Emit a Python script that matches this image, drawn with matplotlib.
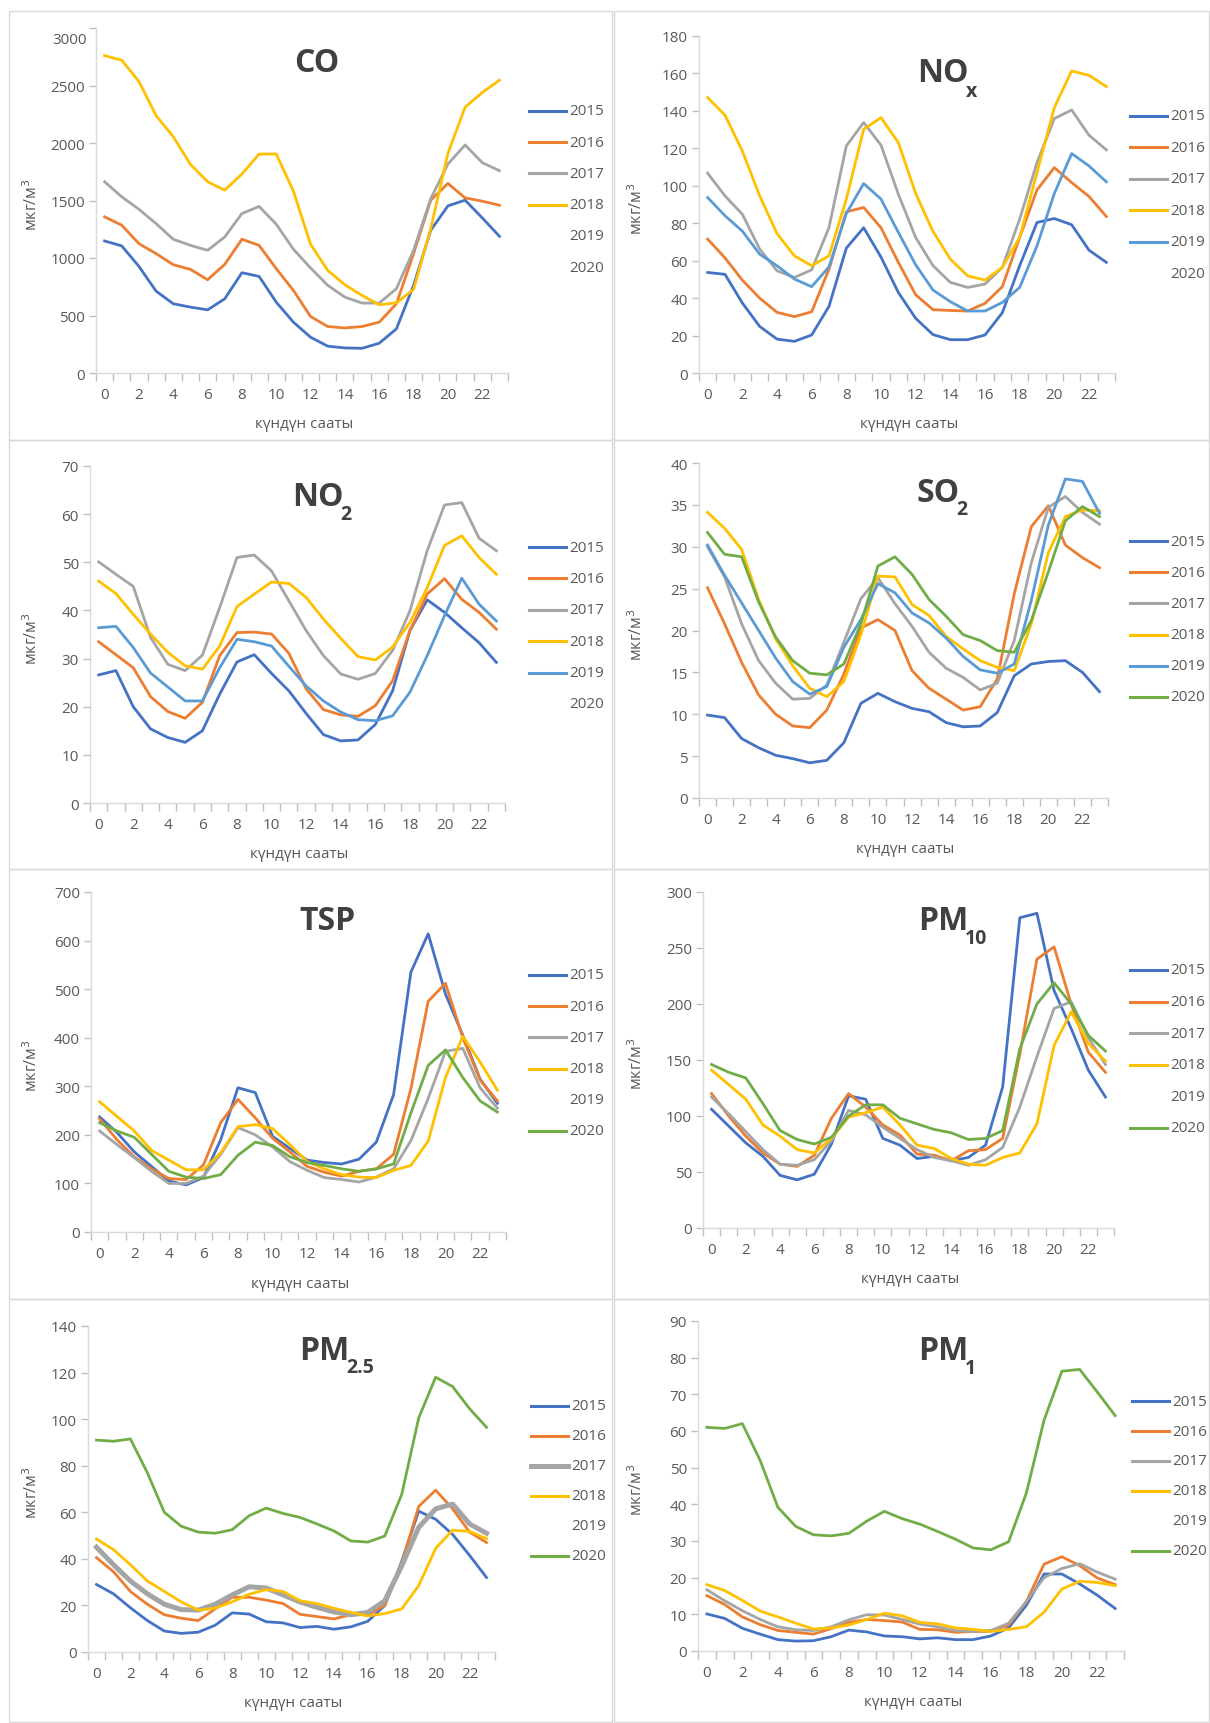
import matplotlib
matplotlib.use("Agg")
import matplotlib.pyplot as plt
from matplotlib.lines import Line2D
from matplotlib.patches import Rectangle

plt.rcParams['font.family'] = ['Open Sans', 'DejaVu Sans']

hours = list(range(24))
years = ['2015', '2016', '2017', '2018', '2019', '2020']
colors = {'2015': '#4472C4', '2016': '#ED7D31', '2017': '#A5A5A5',
          '2018': '#FFC000', '2019': '#5B9BD5', '2020': '#70AD47'}

# ---------------- data ----------------
co_2015 = [1148, 1105, 927, 712, 602, 573, 549, 645, 872, 840, 616, 442, 311, 233, 218, 215, 259, 384, 762, 1241, 1453, 1503, 1349, 1189]
co_2016 = [1358, 1285, 1125, 1038, 942, 901, 811, 945, 1163, 1110, 907, 718, 491, 404, 392, 404, 442, 602, 1038, 1503, 1648, 1523, 1494, 1459]
co_2017 = [1663, 1532, 1424, 1299, 1163, 1110, 1067, 1183, 1387, 1448, 1294, 1076, 913, 762, 660, 608, 608, 733, 1067, 1517, 1817, 1983, 1829, 1759]
co_2018 = [2760, 2720, 2535, 2238, 2055, 1814, 1663, 1590, 1730, 1904, 1904, 1581, 1119, 892, 767, 674, 593, 610, 727, 1256, 1910, 2311, 2439, 2546]

nox_2015 = [53.7, 52.7, 37.4, 24.9, 18.1, 16.9, 20.3, 35.6, 66.7, 77.6, 61.9, 43.0, 29.2, 20.5, 17.8, 17.8, 20.3, 32.2, 57.3, 80.4, 82.5, 79.2, 65.6, 59.1]
nox_2016 = [71.5, 61.5, 49.6, 40.0, 32.4, 30.1, 32.7, 55.5, 86.1, 88.4, 77.6, 59.1, 41.8, 33.8, 33.4, 33.1, 37.2, 46.1, 72.4, 97.8, 109.7, 101.7, 94.3, 83.6]
nox_2017 = [106.7, 94.6, 84.8, 66.2, 54.6, 51.0, 55.1, 77.7, 121.3, 133.8, 121.7, 95.5, 72.4, 57.3, 48.4, 45.7, 47.5, 56.4, 82.2, 112.4, 135.9, 140.5, 127.0, 119.2]
nox_2018 = [147.1, 137.7, 118.6, 94.6, 74.5, 62.6, 57.3, 62.6, 92.9, 130.2, 136.4, 123.1, 95.9, 75.6, 60.8, 51.9, 49.6, 56.4, 72.4, 107.1, 141.8, 161.3, 159.0, 153.0]
nox_2019 = [93.7, 84.0, 75.8, 63.5, 57.3, 50.2, 46.1, 56.7, 85.2, 101.2, 92.9, 75.1, 57.8, 44.3, 38.1, 33.1, 33.1, 37.7, 45.7, 67.9, 95.9, 117.2, 110.6, 102.1]

no2_2015 = [26.6, 27.5, 20.0, 15.4, 13.6, 12.6, 15.0, 22.6, 29.3, 30.8, 26.9, 23.3, 18.6, 14.2, 12.9, 13.1, 16.3, 23.3, 35.8, 42.2, 39.6, 36.4, 33.3, 29.2]
no2_2016 = [33.5, 30.8, 28.1, 22.1, 19.0, 17.6, 20.9, 30.6, 35.4, 35.5, 35.1, 31.1, 23.7, 19.4, 18.3, 18.0, 20.2, 25.4, 35.8, 43.4, 46.6, 42.3, 39.6, 36.1]
no2_2017 = [50.1, 47.5, 45.0, 34.4, 28.8, 27.5, 30.7, 40.6, 51.0, 51.5, 48.2, 42.0, 35.8, 30.6, 26.8, 25.7, 26.9, 31.7, 39.9, 52.4, 61.9, 62.4, 55.0, 52.4]
no2_2018 = [46.1, 43.5, 39.2, 35.1, 31.3, 28.5, 27.8, 32.6, 40.8, 43.4, 45.9, 45.6, 42.7, 38.2, 34.2, 30.4, 29.7, 32.4, 37.5, 44.7, 53.5, 55.5, 51.0, 47.5]
no2_2019 = [36.4, 36.7, 32.3, 27.0, 24.1, 21.2, 21.2, 28.1, 34.0, 33.5, 32.6, 28.4, 24.3, 21.2, 18.9, 17.3, 17.1, 18.1, 23.0, 30.6, 38.9, 46.7, 41.3, 37.8]

so2_2015 = [9.9, 9.6, 7.1, 6.0, 5.1, 4.7, 4.2, 4.5, 6.6, 11.3, 12.5, 11.5, 10.7, 10.3, 9.0, 8.5, 8.6, 10.2, 14.6, 16.0, 16.3, 16.4, 15.0, 12.7]
so2_2016 = [25.1, 20.8, 16.2, 12.3, 10.0, 8.6, 8.4, 10.5, 14.8, 20.3, 21.3, 20.0, 15.2, 13.1, 11.8, 10.5, 10.9, 14.2, 24.4, 32.4, 34.9, 30.2, 28.7, 27.5]
so2_2017 = [30.0, 26.4, 20.8, 16.4, 13.7, 11.8, 11.9, 13.5, 18.6, 23.8, 26.3, 23.2, 20.5, 17.4, 15.5, 14.4, 12.9, 13.7, 18.8, 28.1, 34.7, 36.0, 34.1, 32.7]
so2_2018 = [34.1, 32.2, 29.7, 23.7, 19.0, 15.8, 13.1, 12.1, 13.9, 19.5, 26.5, 26.4, 23.1, 21.8, 19.3, 17.8, 16.4, 15.6, 15.2, 20.8, 29.3, 33.6, 34.4, 34.3]
so2_2019 = [30.2, 26.6, 23.3, 20.0, 16.7, 13.9, 12.4, 13.3, 18.0, 21.3, 25.6, 24.5, 22.1, 20.9, 19.1, 16.9, 15.3, 14.9, 16.0, 23.6, 32.6, 38.1, 37.8, 34.0]
so2_2020 = [31.7, 29.1, 28.8, 23.4, 19.2, 16.4, 14.9, 14.7, 16.0, 20.8, 27.7, 28.8, 26.7, 23.7, 21.7, 19.5, 18.8, 17.6, 17.4, 21.2, 27.0, 33.1, 34.8, 33.6]

tsp_2015 = [237, 205, 165, 135, 105, 97, 112, 190, 297, 287, 197, 172, 148, 143, 140, 150, 185, 283, 535, 614, 490, 405, 315, 265]
tsp_2016 = [233, 190, 155, 130, 110, 108, 138, 225, 273, 235, 193, 165, 135, 123, 115, 125, 130, 160, 295, 475, 512, 400, 313, 270]
tsp_2017 = [208, 180, 153, 125, 100, 100, 115, 160, 215, 200, 175, 145, 127, 112, 108, 103, 113, 130, 188, 275, 372, 378, 297, 255]
tsp_2018 = [268, 238, 208, 168, 148, 128, 128, 163, 217, 221, 213, 180, 145, 130, 118, 113, 112, 127, 137, 187, 318, 403, 350, 292]
tsp_2020 = [225, 208, 195, 160, 125, 113, 110, 118, 158, 185, 178, 155, 143, 137, 130, 125, 130, 140, 245, 343, 375, 318, 270, 247]

pm10_2015 = [106, 91, 76, 64, 47, 43, 48, 75, 118, 115, 80, 74, 62, 64, 60, 63, 74, 126, 277, 281, 212, 178, 141, 117]
pm10_2016 = [120, 100, 82, 67, 57, 55, 65, 98, 120, 108, 92, 83, 66, 65, 60, 69, 70, 80, 155, 240, 251, 200, 157, 139]
pm10_2017 = [117, 102, 86, 70, 57, 56, 61, 78, 105, 101, 90, 80, 70, 63, 60, 56, 61, 72, 108, 153, 196, 202, 170, 146]
pm10_2018 = [141, 128, 115, 92, 82, 70, 67, 80, 99, 103, 108, 92, 74, 71, 62, 57, 56, 63, 67, 93, 163, 193, 165, 149]
pm10_2020 = [146, 139, 134, 111, 87, 79, 75, 81, 100, 110, 110, 98, 93, 88, 85, 79, 80, 87, 160, 200, 219, 200, 172, 158]

pm25_2015 = [29, 25, 19, 13.5, 9, 8, 8.5, 11.5, 16.8, 16.3, 13, 12.5, 10.5, 11, 9.8, 10.8, 13.2, 20, 39, 60.5, 57, 50.5, 41.5, 32]
pm25_2016 = [40.5, 34.5, 26, 20.5, 16, 14.5, 13.5, 18.5, 23.5, 23.5, 22.3, 20.8, 16.2, 15.2, 14.2, 16, 16, 20, 38, 62.5, 69.5, 61.5, 51.5, 47]
pm25_2017 = [45, 37.5, 30.5, 25, 20.5, 18.2, 18, 20.5, 24.5, 28, 27.5, 24.5, 21.5, 19.2, 17.2, 16, 17, 22, 37, 53.5, 61.5, 63.5, 55, 51]
pm25_2018 = [48.5, 44, 37.5, 30.5, 26, 21.5, 18, 18.8, 21.5, 24.8, 26.8, 26, 22, 20.8, 18.8, 17, 15.5, 16.5, 18.5, 28.5, 44.5, 52.3, 51.8, 48.7]
pm25_2020 = [91, 90.5, 91.5, 77, 60, 54, 51.5, 51, 52.5, 58.5, 61.8, 59.5, 57.8, 55, 52, 47.7, 47.2, 49.8, 67.7, 100.5, 118, 114, 104.5, 96.5]

pm1_2015 = [10.1, 8.9, 6.2, 4.6, 3.1, 2.7, 2.8, 3.9, 5.7, 5.2, 4.1, 3.9, 3.3, 3.6, 3.1, 3.1, 4.1, 6.3, 12.5, 21, 21, 18.3, 15.2, 11.6]
pm1_2016 = [15.1, 12.7, 9.3, 7.2, 5.6, 5.1, 4.6, 6.1, 7.8, 8.6, 8.3, 7.9, 5.9, 5.8, 5.1, 5.3, 5.4, 7.1, 13.5, 23.7, 25.7, 23.3, 19.9, 18.1]
pm1_2017 = [16.7, 13.7, 11.0, 8.6, 6.6, 5.8, 5.6, 6.6, 8.5, 9.9, 9.8, 8.6, 7.3, 6.6, 5.6, 5.3, 5.6, 7.6, 13.5, 20, 22.5, 23.8, 21.5, 19.6]
pm1_2018 = [18.1, 16.5, 13.8, 10.9, 9.3, 7.6, 6.0, 6.3, 7.1, 8.6, 10.3, 9.6, 7.8, 7.4, 6.3, 5.9, 5.3, 5.9, 6.6, 10.6, 16.9, 19, 18.7, 17.8]
pm1_2020 = [61, 60.7, 62, 52, 39.2, 34, 31.7, 31.4, 32.1, 35.4, 38.1, 36.1, 34.6, 32.6, 30.5, 28.1, 27.6, 29.8, 43.1, 63, 76.3, 76.8, 70.6, 64.2]

panels = [
    dict(title='CO', sub='', ymax=3000, ystep=500,
         series={'2015': co_2015, '2016': co_2016, '2017': co_2017, '2018': co_2018}),
    dict(title='NO', sub='x', ymax=180, ystep=20,
         series={'2015': nox_2015, '2016': nox_2016, '2017': nox_2017, '2018': nox_2018, '2019': nox_2019}),
    dict(title='NO', sub='2', ymax=70, ystep=10,
         series={'2015': no2_2015, '2016': no2_2016, '2017': no2_2017, '2018': no2_2018, '2019': no2_2019}),
    dict(title='SO', sub='2', ymax=40, ystep=5,
         series={'2015': so2_2015, '2016': so2_2016, '2017': so2_2017, '2018': so2_2018, '2019': so2_2019, '2020': so2_2020}),
    dict(title='TSP', sub='', ymax=700, ystep=100,
         series={'2015': tsp_2015, '2016': tsp_2016, '2017': tsp_2017, '2018': tsp_2018, '2020': tsp_2020}),
    dict(title='PM', sub='10', ymax=300, ystep=50,
         series={'2015': pm10_2015, '2016': pm10_2016, '2017': pm10_2017, '2018': pm10_2018, '2020': pm10_2020}),
    dict(title='PM', sub='2.5', ymax=140, ystep=20,
         series={'2015': pm25_2015, '2016': pm25_2016, '2017': pm25_2017, '2018': pm25_2018, '2020': pm25_2020}),
    dict(title='PM', sub='1', ymax=90, ystep=10,
         series={'2015': pm1_2015, '2016': pm1_2016, '2017': pm1_2017, '2018': pm1_2018, '2020': pm1_2020}),
]

# ---------------- layout (pixels) ----------------
W, H = 1210, 1724
fig = plt.figure(figsize=(W / 100, H / 100), dpi=100)

def fx(x):
    return x / W

def fy(y):
    return 1 - y / H

# axes boxes: left, top, right, bottom
ax_boxes = [
    (96, 29, 508, 374),
    (699, 37, 1115, 374),
    (90, 467, 505, 804),
    (699, 464, 1108, 799),
    (91, 893, 506, 1233),
    (703, 893, 1114, 1229),
    (88, 1327, 495, 1653),
    (698, 1322, 1124, 1652),
]
# title centre (x, y) and subscript vertical offset (px)
title_pos = [(317, 63), (338, 73), (318, 498), (333, 494),
             (328, 922), (338, 922), (324, 1352), (338, 1352)]
sub_dy = [0, 19, 17, 16, 0, 17, 16, 17]
legend_x = [529, 525, 529, 525, 529, 525, 531, 527]
legend_y0 = [112, 117, 548, 542, 976, 971, 1407, 1402]
legend_dy = [31.2, 31.4, 31.4, 31.2, 31.2, 31.6, 30.0, 30.0]

# panel frames
col_x = [(9, 612), (614, 1209)]
row_y = [(12, 441), (441, 870), (870, 1300), (1300, 1723)]
for r in range(4):
    for c in range(2):
        x0, x1 = col_x[c]
        y0, y1 = row_y[r]
        fig.add_artist(Rectangle((fx(x0), fy(y1)), fx(x1) - fx(x0), fy(y0) - fy(y1),
                                 transform=fig.transFigure, fill=False,
                                 edgecolor='#D9D9D9', linewidth=1.0))

tick_color = '#595959'
title_texts = []
for i, p in enumerate(panels):
    l, t, r, b = ax_boxes[i]
    ax = fig.add_axes([fx(l), fy(b), fx(r) - fx(l), fy(t) - fy(b)])
    offset_x = 0 if i % 2 == 0 else 605
    for yr, vals in p['series'].items():
        lw = 3.6 if (i == 6 and yr == '2017') else 2.0
        ax.plot(hours, vals, color=colors[yr], linewidth=lw, solid_joinstyle='round')
    ax.set_xlim(-0.5, 23.5)
    ax.set_ylim(0, p['ymax'])
    yt = list(range(0, p['ymax'] + 1, p['ystep']))
    ax.set_yticks(yt)
    if i == 0:
        # Excel draws the top label slightly lower in this panel
        ax.set_yticklabels([str(v) for v in yt[:-1]] + [''])
        fig.text(fx(l - 9), fy(40), str(yt[-1]), ha='right', va='center',
                 fontsize=11, color=tick_color)
    ax.set_xticks(range(0, 24, 2))
    ax.set_xticks([h - 0.5 for h in range(25)], minor=True)
    ax.tick_params(axis='x', which='major', length=0, labelsize=11, labelcolor=tick_color, pad=10)
    ax.tick_params(axis='x', which='minor', length=6, color='#BFBFBF', width=1, direction='out')
    ax.tick_params(axis='y', which='major', length=5, color='#BFBFBF', width=1,
                   labelsize=11, labelcolor=tick_color, pad=3)
    for s in ['top', 'right']:
        ax.spines[s].set_visible(False)
    for s in ['left', 'bottom']:
        ax.spines[s].set_color('#D9D9D9')
        ax.spines[s].set_linewidth(1.0)
    ax.patch.set_alpha(0)

    # axis labels
    fig.text(fx((l + r) / 2 + 2), fy(b + 51), 'күндүн сааты', ha='center', va='center',
             fontsize=11, color=tick_color)
    fig.text(fx(offset_x + 32), fy((t + b) / 2 + 3), 'мкг/м$^3$', ha='center', va='center',
             rotation=90, fontsize=11.5, color=tick_color)

    # title
    tx, ty = title_pos[i]
    tx += offset_x
    tt = fig.text(fx(tx), fy(ty), p['title'], ha='center', va='center', fontsize=23,
                  fontweight='bold', color='#404040')
    title_texts.append((tt, ty))

    # legend
    lx = legend_x[i] + offset_x
    for k, yr in enumerate(years):
        yy = legend_y0[i] + k * legend_dy[i]
        if yr in p['series']:
            lw = 3.6 if (i == 6 and yr == '2017') else 2.2
            fig.add_artist(Line2D([fx(lx), fx(lx + 37)], [fy(yy), fy(yy)],
                                  transform=fig.transFigure, color=colors[yr], linewidth=lw))
        fig.text(fx(lx + 40), fy(yy), yr, ha='left', va='center', fontsize=11, color=tick_color)

# subscripts placed right after the main title text
fig.canvas.draw()
renderer = fig.canvas.get_renderer()
for i, p in enumerate(panels):
    if not p['sub']:
        continue
    tt, ty = title_texts[i]
    bb = tt.get_window_extent(renderer)
    x_right = bb.x1  # pixels from left
    fig.text(fx(x_right - 3), fy(ty + sub_dy[i]), p['sub'], ha='left', va='center',
             fontsize=14, fontweight='bold', color='#404040')

fig.savefig('out.png', dpi=100, facecolor='white')
